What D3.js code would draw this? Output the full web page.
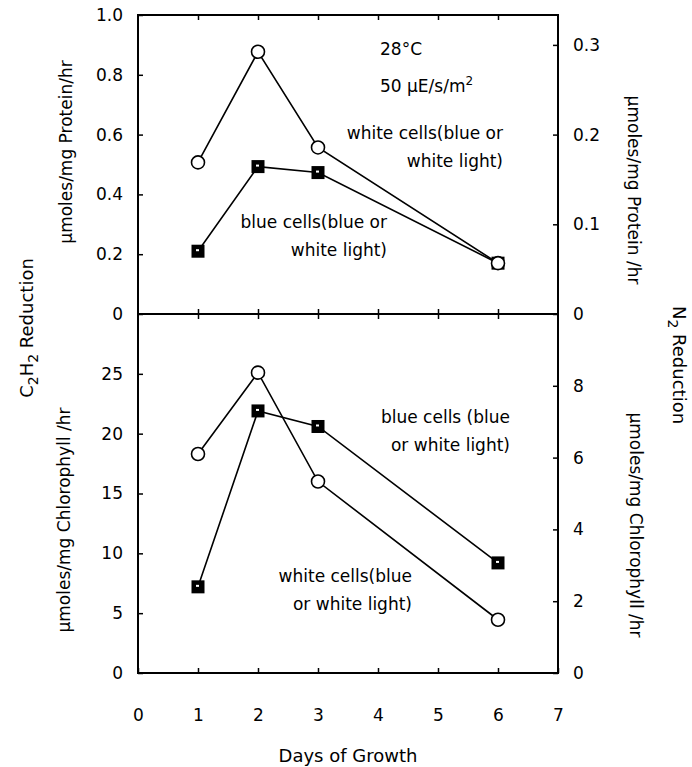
<!DOCTYPE html>
<meta charset="utf-8">
<style>
body { margin: 0; background: #fff; }
svg text { font-family: "DejaVu Sans", sans-serif; fill: #000; }
.axis path { display: none; }
.axis line { stroke: #000; stroke-width: 1.5px; }
.axis text { font-size: 17px; }
.note { font-size: 17px; }
.title { font-size: 18px; }
</style>
<svg width="692" height="767"></svg>
<script src="https://d3js.org/d3.v7.min.js"></script>
<script>
// days of growth and the four series
var days = [1, 2, 3, 6];
var whiteProtein = [0.507, 0.877, 0.557, 0.17];   // µmol C2H2 / mg protein / hr
var blueProtein  = [0.21, 0.493, 0.473, 0.17];
var whiteChl = [18.3, 25.1, 16.0, 4.45];          // µmol C2H2 / mg chlorophyll / hr
var blueChl  = [7.2, 21.9, 20.6, 9.2];

var xTicks = [0, 1, 2, 3, 4, 5, 6, 7];
var topLeftTicks = [0, 0.2, 0.4, 0.6, 0.8, 1.0];
var topRightTicks = [0, 0.1, 0.2, 0.3];
var botLeftTicks = [0, 5, 10, 15, 20, 25];
var botRightTicks = [0, 2, 4, 6, 8];

var svg = d3.select("svg");

var x = d3.scaleLinear().domain([0, 7]).range([138, 558]);
var yTop = d3.scaleLinear().domain([0, 1]).range([314, 15]);
var yTopR = d3.scaleLinear().domain([0, 1 / 3]).range([314, 15]);
var yBot = d3.scaleLinear().domain([0, 30]).range([673, 314]);
var yBotR = d3.scaleLinear().domain([0, 10]).range([673, 314]);

var fmt1 = function(d) { return d === 0 ? "0" : d3.format(".1f")(d); };
var fmtInt = d3.format("d");

// left axes (ticks pointing inward)
svg.append("g").attr("class", "axis")
    .attr("transform", "translate(" + x(0) + ",0)")
    .call(d3.axisLeft(yTop).tickValues(topLeftTicks).tickFormat(fmt1).tickSizeInner(-5).tickSizeOuter(0).tickPadding(15));
svg.append("g").attr("class", "axis")
    .attr("transform", "translate(" + x(0) + ",0)")
    .call(d3.axisLeft(yBot).tickValues(botLeftTicks).tickFormat(fmtInt).tickSizeInner(-5).tickSizeOuter(0).tickPadding(15));

// right axes
svg.append("g").attr("class", "axis")
    .attr("transform", "translate(" + x(7) + ",0)")
    .call(d3.axisRight(yTopR).tickValues(topRightTicks).tickFormat(fmt1).tickSizeInner(-5).tickSizeOuter(0).tickPadding(15));
svg.append("g").attr("class", "axis")
    .attr("transform", "translate(" + x(7) + ",0)")
    .call(d3.axisRight(yBotR).tickValues(botRightTicks).tickFormat(fmtInt).tickSizeInner(-5).tickSizeOuter(0).tickPadding(15));

// x axes: bottom with labels, ticks on middle line and top border
svg.append("g").attr("class", "axis")
    .attr("transform", "translate(0," + yBot(0) + ")")
    .call(d3.axisBottom(x).tickValues(xTicks).tickFormat(fmtInt).tickSizeInner(-5).tickSizeOuter(0).tickPadding(36));
svg.append("g").attr("class", "axis")
    .attr("transform", "translate(0," + yTop(0) + ")")
    .call(d3.axisBottom(x).tickValues(xTicks.slice(1, 7)).tickFormat("").tickSize(5));
svg.append("g").attr("class", "axis")
    .attr("transform", "translate(0," + yTop(0) + ")")
    .call(d3.axisTop(x).tickValues(xTicks.slice(1, 7)).tickFormat("").tickSize(5));
svg.append("g").attr("class", "axis")
    .attr("transform", "translate(0," + yTop(1) + ")")
    .call(d3.axisBottom(x).tickValues(xTicks.slice(1, 7)).tickFormat("").tickSize(5));

// frame
svg.append("rect")
    .attr("x", x(0)).attr("y", yTop(1))
    .attr("width", x(7) - x(0)).attr("height", yBot(0) - yTop(1))
    .attr("fill", "none").attr("stroke", "#000").attr("stroke-width", 2);
svg.append("line")
    .attr("x1", x(0)).attr("x2", x(7)).attr("y1", yTop(0)).attr("y2", yTop(0))
    .attr("stroke", "#000").attr("stroke-width", 2);

function series(vals, yScale, marker) {
  var pts = days.map(function(d, i) { return [x(d), yScale(vals[i])]; });
  svg.append("path")
      .attr("d", d3.line()(pts))
      .attr("fill", "none").attr("stroke", "#000").attr("stroke-width", 1.6);
  var g = svg.append("g");
  if (marker === "square") {
    g.selectAll("rect.sq").data(pts).enter().append("rect")
        .attr("x", function(p) { return p[0] - 6.5; })
        .attr("y", function(p) { return p[1] - 6.5; })
        .attr("width", 13).attr("height", 13)
        .attr("fill", "#000");
    g.selectAll("rect.dot").data(pts).enter().append("rect")
        .attr("x", function(p) { return p[0] - 2; })
        .attr("y", function(p) { return p[1] - 2; })
        .attr("width", 3).attr("height", 2)
        .attr("fill", "#fff");
  } else {
    g.selectAll("circle").data(pts).enter().append("circle")
        .attr("cx", function(p) { return p[0]; })
        .attr("cy", function(p) { return p[1]; })
        .attr("r", 6.5)
        .attr("fill", "#fff").attr("stroke", "#000").attr("stroke-width", 1.6);
  }
}

series(blueProtein, yTop, "square");
series(whiteProtein, yTop, "circle");
series(whiteChl, yBot, "circle");
series(blueChl, yBot, "square");

// annotations
function note(lines, xPos, yPos, anchor) {
  var t = svg.append("text").attr("class", "note").attr("text-anchor", anchor);
  lines.forEach(function(s, i) {
    t.append("tspan").attr("x", xPos).attr("y", yPos + i * 28).text(s);
  });
}
svg.append("text").attr("class", "note").attr("x", 380).attr("y", 55).text("28°C");
var t50 = svg.append("text").attr("class", "note").attr("x", 380).attr("y", 92);
t50.append("tspan").text("50 µE/s/m");
t50.append("tspan").attr("dy", -7).attr("font-size", 12).text("2");
note(["white cells(blue or", "white light)"], 503, 139, "end");
note(["blue cells(blue or", "white light)"], 387, 228, "end");
note(["blue cells (blue", "or white light)"], 510, 423, "end");
note(["white cells(blue", "or white light)"], 412, 582, "end");

// axis titles
svg.append("text").attr("class", "title").attr("text-anchor", "middle")
    .attr("x", x(3.5)).attr("y", 762).text("Days of Growth");

var c2 = svg.append("text").attr("class", "title").attr("text-anchor", "middle")
    .attr("transform", "translate(33,328) rotate(-90)");
c2.append("tspan").text("C");
c2.append("tspan").attr("dy", 5).attr("font-size", 14).text("2");
c2.append("tspan").attr("dy", -5).text("H");
c2.append("tspan").attr("dy", 5).attr("font-size", 14).text("2");
c2.append("tspan").attr("dy", -5).text(" Reduction");

var n2 = svg.append("text").attr("class", "title").attr("text-anchor", "middle")
    .attr("transform", "translate(673,365) rotate(90)");
n2.append("tspan").text("N");
n2.append("tspan").attr("dy", 5).attr("font-size", 14).text("2");
n2.append("tspan").attr("dy", -5).text(" Reduction");

svg.append("text").attr("class", "note").attr("text-anchor", "middle")
    .attr("transform", "translate(72,152) rotate(-90)").text("µmoles/mg Protein/hr");
svg.append("text").attr("class", "note").attr("text-anchor", "middle")
    .attr("transform", "translate(70,520) rotate(-90)").text("µmoles/mg Chlorophyll /hr");
svg.append("text").attr("class", "note").attr("text-anchor", "middle")
    .attr("transform", "translate(628,190) rotate(90)").text("µmoles/mg Protein /hr");
svg.append("text").attr("class", "note").attr("text-anchor", "middle")
    .attr("transform", "translate(630,525) rotate(90)").text("µmoles/mg Chlorophyll /hr");
</script>
